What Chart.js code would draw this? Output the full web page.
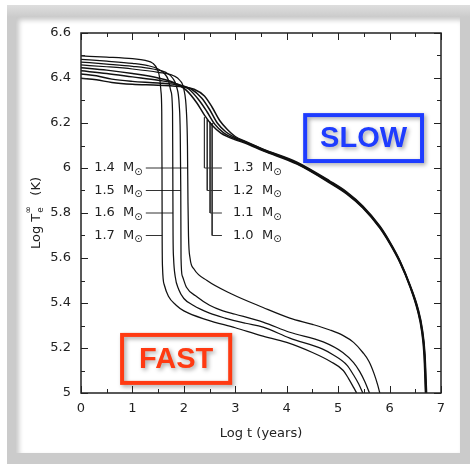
<!DOCTYPE html>
<html>
<head>
<meta charset="utf-8">
<script src="https://cdn.jsdelivr.net/npm/chart.js@4.4.1/dist/chart.umd.min.js"></script>
<style>
  html, body { margin: 0; padding: 0; background: #fff; }
  #frame { position: absolute; left: 7px; top: 5px; width: 463px; height: 459px;
           background: linear-gradient(#dedede, #cbcbcb 12px); }
  #panel { position: absolute; left: 9px; top: 12px; width: 444px; height: 436px;
           background: #fff; box-shadow: inset 3px 3px 5px rgba(0,0,0,0.22); }
  #cooling { position: absolute; left: 0; top: 0; }
</style>
</head>
<body>
<div id="frame"><div id="panel"></div></div>
<canvas id="cooling" width="470" height="464"></canvas>
<script>
// cooling curves: [log t (yr), log Te_inf (K)]
const masses = ['1.0', '1.1', '1.2', '1.3', '1.4', '1.5', '1.6', '1.7'];

const curve10 = [[0,6.399],[0.3,6.392],[0.6,6.38],[1.0,6.372],[1.5,6.368],[2.0,6.36],[2.2,6.35],[2.4,6.32],
  [2.55,6.27],[2.7,6.21],[2.85,6.17],[3.0,6.14],[3.2,6.118],[3.54,6.084],[4.2,6.026],[4.84,5.942],
  [5.17,5.893],[5.48,5.831],[5.81,5.742],[6.0,5.674],[6.2,5.589],[6.4,5.479],[6.555,5.374],[6.637,5.284],
  [6.688,5.174],[6.72,5.0]];
const curve11 = [[0,6.418],[0.3,6.41],[0.6,6.395],[1.0,6.385],[1.5,6.378],[1.9,6.368],[2.15,6.35],[2.35,6.31],
  [2.5,6.26],[2.65,6.20],[2.82,6.16],[3.0,6.135],[3.2,6.116],[3.54,6.082],[4.2,6.023],[4.84,5.939],
  [5.17,5.890],[5.48,5.828],[5.81,5.739],[6.0,5.671],[6.2,5.586],[6.4,5.476],[6.552,5.371],[6.633,5.281],
  [6.683,5.171],[6.713,5.0]];
const curve12 = [[0,6.432],[0.5,6.42],[1.0,6.405],[1.5,6.39],[1.85,6.375],[2.1,6.35],[2.3,6.30],[2.45,6.25],
  [2.6,6.195],[2.78,6.155],[3.0,6.13],[3.2,6.113],[3.54,6.079],[4.2,6.020],[4.84,5.936],
  [5.17,5.887],[5.48,5.825],[5.81,5.736],[6.0,5.668],[6.2,5.583],[6.4,5.473],[6.548,5.368],[6.628,5.278],
  [6.677,5.168],[6.705,5.0]];
const curve13 = [[0,6.446],[0.5,6.435],[1.0,6.42],[1.5,6.40],[1.8,6.38],[2.05,6.345],[2.25,6.29],[2.4,6.235],
  [2.55,6.19],[2.72,6.155],[3.0,6.125],[3.2,6.11],[3.54,6.076],[4.2,6.017],[4.84,5.933],
  [5.17,5.884],[5.48,5.822],[5.81,5.733],[6.0,5.665],[6.2,5.58],[6.4,5.47],[6.545,5.365],[6.624,5.275],
  [6.671,5.165],[6.698,5.0]];
const curve14 = [[0,6.458],[0.5,6.45],[1.0,6.44],[1.5,6.425],[1.8,6.41],[1.92,6.39],[2.0,6.35],[2.05,6.25],
  [2.07,6.1],[2.08,5.85],[2.09,5.7],[2.12,5.6],[2.2,5.55],[2.45,5.5],[2.93,5.44],[3.54,5.38],[4.06,5.333],
  [4.5,5.305],[4.84,5.28],[5.1,5.255],[5.3,5.225],[5.48,5.18],[5.6,5.14],[5.7,5.085],[5.77,5.035],[5.81,5.0]];
const curve15 = [[0,6.471],[0.5,6.462],[1.0,6.452],[1.4,6.44],[1.65,6.425],[1.78,6.40],[1.86,6.36],[1.91,6.28],
  [1.93,6.15],[1.94,5.9],[1.945,5.6],[1.97,5.52],[2.05,5.47],[2.26,5.427],[2.5,5.39],[2.76,5.365],[3.0,5.35],
  [3.54,5.315],[4.06,5.27],[4.71,5.227],[5.09,5.18],[5.3,5.135],[5.42,5.095],[5.52,5.05],[5.61,5.0]];
const curve16 = [[0,6.483],[0.5,6.475],[1.0,6.465],[1.3,6.455],[1.5,6.44],[1.62,6.42],[1.7,6.39],[1.75,6.34],
  [1.78,6.25],[1.785,6.0],[1.79,5.7],[1.80,5.6],[1.83,5.52],[1.9,5.46],[2.0,5.42],[2.18,5.39],[2.5,5.355],
  [2.8,5.333],[3.2,5.31],[3.54,5.293],[4.06,5.244],[4.7,5.195],[4.9,5.17],[5.17,5.124],[5.3,5.08],[5.4,5.04],[5.48,5.0]];
const curve17 = [[0,6.498],[0.5,6.493],[1.0,6.486],[1.25,6.478],[1.4,6.465],[1.48,6.44],[1.53,6.40],[1.555,6.34],
  [1.57,6.25],[1.575,6.0],[1.578,5.7],[1.585,5.56],[1.62,5.48],[1.7,5.43],[1.85,5.39],[2.0,5.365],[2.45,5.325],
  [3.0,5.29],[3.5,5.255],[4.0,5.225],[4.5,5.18],[4.85,5.14],[5.1,5.10],[5.2,5.065],[5.3,5.025],[5.36,5.0]];

const curves = [curve10, curve11, curve12, curve13, curve14, curve15, curve16, curve17];

// leader lines from each mass label to its curve
const leader10 = [[2.55,6.20],[2.55,5.7],[2.74,5.7]];
const leader11 = [[2.51,6.205],[2.51,5.8],[2.74,5.8]];
const leader12 = [[2.455,6.215],[2.455,5.9],[2.74,5.9]];
const leader13 = [[2.40,6.225],[2.40,6.0],[2.74,6.0]];
const leader14 = [[1.26,6.0],[2.075,6.0]];
const leader15 = [[1.26,5.9],[1.94,5.9]];
const leader16 = [[1.26,5.8],[1.79,5.8]];
const leader17 = [[1.26,5.7],[1.578,5.7]];
const leaders = [leader10, leader11, leader12, leader13, leader14, leader15, leader16, leader17];

// label anchors: [x, y, side]
const labelAt = [[2.955,5.7,'r'],[2.955,5.8,'r'],[2.955,5.9,'r'],[2.955,6.0,'r'],
                 [1.20,6.0,'l'],[1.20,5.9,'l'],[1.20,5.8,'l'],[1.20,5.7,'l']];

const xTicks = [0, 1, 2, 3, 4, 5, 6, 7];
const yTicks = [5, 5.2, 5.4, 5.6, 5.8, 6, 6.2, 6.4, 6.6];

const FONT = '"DejaVu Sans", sans-serif';

const toXY = pts => pts.map(([x, y]) => ({x, y}));

const datasets = [];
curves.forEach((c, i) => datasets.push({
  label: masses[i] + ' M',
  data: toXY(c),
  borderColor: '#111',
  borderWidth: i < 4 ? 1.5 : 1.25,   // the four slow ones merge into one thick track
  pointRadius: 0,
  cubicInterpolationMode: 'monotone',
  fill: false
}));
leaders.forEach(l => datasets.push({
  data: toXY(l),
  borderColor: '#333',
  borderWidth: 1,
  pointRadius: 0,
  tension: 0,
  fill: false
}));

// box, inward ticks on all four sides, axis titles, mass labels
const decorations = {
  id: 'decorations',
  afterDatasetsDraw(chart) {
    const {ctx, chartArea: a, scales: {x, y}} = chart;
    ctx.save();
    ctx.strokeStyle = '#222';
    ctx.lineWidth = 1.5;
    ctx.strokeRect(a.left, a.top, a.right - a.left, a.bottom - a.top);

    ctx.lineWidth = 1;
    ctx.beginPath();
    for (let v = 0; v <= 7.001; v += 0.5) {
      const px = Math.round(x.getPixelForValue(v)) + 0.5;
      const len = Math.abs(v - Math.round(v)) < 1e-6 ? 7 : 4;
      ctx.moveTo(px, a.bottom); ctx.lineTo(px, a.bottom - len);
      ctx.moveTo(px, a.top); ctx.lineTo(px, a.top + len);
    }
    for (let k = 0; k <= 16; k++) {
      const v = 5 + k * 0.1;
      const py = Math.round(y.getPixelForValue(v)) + 0.5;
      const len = k % 2 === 0 ? 7 : 4;
      ctx.moveTo(a.left, py); ctx.lineTo(a.left + len, py);
      ctx.moveTo(a.right, py); ctx.lineTo(a.right - len, py);
    }
    ctx.stroke();

    ctx.fillStyle = '#222';
    ctx.font = '13px ' + FONT;
    ctx.textBaseline = 'middle';

    // mass labels with subscript sun symbol
    labelAt.forEach(([lx, ly, side], i) => {
      const main = masses[i] + '  M';
      ctx.font = '13px ' + FONT;
      const w1 = ctx.measureText(main).width;
      ctx.font = '10px ' + FONT;
      const w2 = ctx.measureText('\u2299').width;
      const px = x.getPixelForValue(lx);
      const py = y.getPixelForValue(ly);
      const start = side === 'l' ? px - w1 - w2 : px;
      ctx.font = '13px ' + FONT;
      ctx.textAlign = 'left';
      ctx.fillText(main, start, py);
      ctx.font = '10px ' + FONT;
      ctx.fillText('\u2299', start + w1, py + 4);
    });

    // x title
    ctx.font = '13px ' + FONT;
    ctx.textAlign = 'center';
    ctx.fillText('Log t (years)', (a.left + a.right) / 2, a.bottom + 41);

    // y title, rotated, with Te^inf
    ctx.translate(37, (a.top + a.bottom) / 2);
    ctx.rotate(-Math.PI / 2);
    ctx.textAlign = 'left';
    ctx.font = '13px ' + FONT;
    const p1 = 'Log T', p3 = '(K)';
    const w1 = ctx.measureText(p1).width;
    const w3 = ctx.measureText(p3).width;
    const gap = 18;
    const total = w1 + gap + w3;
    let cx = -total / 2;
    ctx.fillText(p1, cx, 0);
    ctx.font = '9px ' + FONT;
    ctx.fillText('\u221e', cx + w1, -8);
    ctx.fillText('e', cx + w1 + 1, 4);
    ctx.font = '13px ' + FONT;
    ctx.fillText(p3, cx + w1 + gap, 0);
    ctx.restore();
  }
};

// the two boxed tags, placed in data units
const tags = [
  {text: 'SLOW', color: '#1e3cff', x0: 4.32, x1: 6.67, y0: 6.244, y1: 6.022},
  {text: 'FAST', color: '#ff3a12', x0: 0.76, x1: 2.94, y0: 5.267, y1: 5.036}
];
const tagPlugin = {
  id: 'tags',
  afterDraw(chart) {
    const {ctx, scales: {x, y}} = chart;
    tags.forEach(t => {
      const l = x.getPixelForValue(t.x0), r = x.getPixelForValue(t.x1);
      const tp = y.getPixelForValue(t.y0), bt = y.getPixelForValue(t.y1);
      ctx.save();
      ctx.shadowColor = 'rgba(0,0,0,0.35)';
      ctx.shadowBlur = 4;
      ctx.shadowOffsetX = 2;
      ctx.shadowOffsetY = 2;
      ctx.strokeStyle = t.color;
      ctx.lineWidth = 4;
      ctx.strokeRect(l + 2, tp + 2, r - l - 4, bt - tp - 4);
      ctx.fillStyle = t.color;
      ctx.font = 'bold 29px "Liberation Sans", Arial, sans-serif';
      ctx.textAlign = 'center';
      ctx.textBaseline = 'middle';
      ctx.fillText(t.text, (l + r) / 2, (tp + bt) / 2 + 1);
      ctx.restore();
    });
  }
};

new Chart(document.getElementById('cooling'), {
  type: 'line',
  data: { datasets },
  options: {
    responsive: false,
    animation: false,
    layout: { padding: { top: 33, right: 29, bottom: 0, left: 0 } },
    plugins: { legend: { display: false }, tooltip: { enabled: false } },
    scales: {
      x: {
        type: 'linear', min: 0, max: 7,
        afterFit: s => { s.height = 71; },
        afterBuildTicks: s => { s.ticks = xTicks.map(v => ({value: v})); },
        grid: { display: false, drawTicks: false },
        border: { display: false },
        ticks: { padding: 8, color: '#222', font: { family: FONT, size: 13 } }
      },
      y: {
        type: 'linear', min: 5, max: 6.6,
        afterFit: s => { s.width = 81; },
        afterBuildTicks: s => { s.ticks = yTicks.map(v => ({value: v})); },
        grid: { display: false, drawTicks: false },
        border: { display: false },
        ticks: {
          padding: 10, color: '#222', font: { family: FONT, size: 13 },
          callback: v => String(Number(v.toFixed(1)))
        }
      }
    }
  },
  plugins: [decorations, tagPlugin]
});
</script>
</body>
</html>
